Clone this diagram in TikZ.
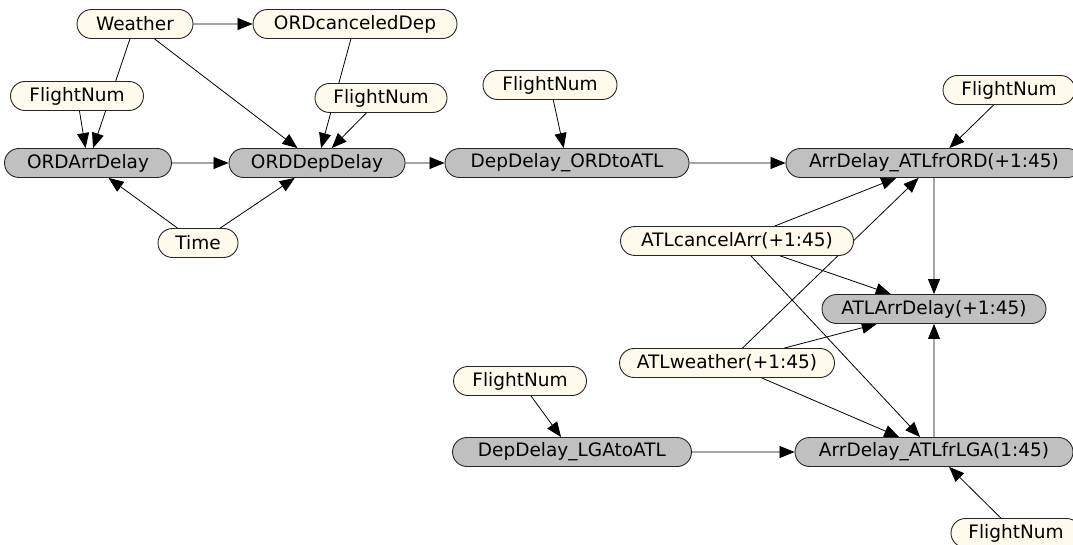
\documentclass[tikz,border=0pt]{standalone}
\usepackage{fontspec}
\setmainfont{DejaVu Sans}
\usetikzlibrary{shapes.misc,arrows.meta,backgrounds}
\definecolor{cream}{RGB}{255,250,235}
\definecolor{delaygray}{RGB}{192,192,192}

\begin{document}
\begin{tikzpicture}[x=1pt, y=-1pt,
  var/.style={draw=black!85, line width=0.9pt, rounded rectangle, minimum height=29pt, inner sep=0pt, font=\fontsize{18.5}{21}\selectfont},
  chance/.style={var, fill=cream},
  delay/.style={var, fill=delaygray},
  link/.style={line width=0.8pt, -{Triangle[length=15pt, width=12pt]}}]

\useasboundingbox (0,0) rectangle (1073,545);

\node[chance, minimum width=116pt] (weather) at (135, 24) {Weather};
\node[chance, minimum width=204pt] (ordcancel) at (355, 24) {ORDcanceledDep};
\node[chance, minimum width=133pt] (fnA) at (77, 96) {FlightNum};
\node[chance, minimum width=132pt] (fnB) at (381, 98) {FlightNum};
\node[delay, minimum width=167pt] (ordarr) at (88, 163) {ORDArrDelay};
\node[delay, minimum width=176pt] (orddep) at (317, 163) {ORDDepDelay};
\node[chance, minimum width=80pt] (time) at (198, 243) {Time};

\node[chance, minimum width=134pt] (fnC) at (550, 85) {FlightNum};
\node[delay, minimum width=244pt] (depord) at (567, 163) {DepDelay\_ORDtoATL};

\node[chance, minimum width=132pt] (fnD) at (1009, 90) {FlightNum};
\node[delay, minimum width=296pt] (arrord) at (934, 163) {ArrDelay\_ATLfrORD(+1:45)};
\node[chance, minimum width=233pt] (atlcancel) at (737, 241) {ATLcancelArr(+1:45)};
\node[delay, minimum width=224pt] (atlarr) at (934, 309) {ATLArrDelay(+1:45)};
\node[chance, minimum width=215pt] (atlweather) at (727, 363) {ATLweather(+1:45)};

\node[chance, minimum width=133pt] (fnE) at (520, 381) {FlightNum};
\node[delay, minimum width=239pt] (deplga) at (572, 452) {DepDelay\_LGAtoATL};
\node[delay, minimum width=278pt] (arrlga) at (934, 452) {ArrDelay\_ATLfrLGA(1:45)};
\node[chance, minimum width=130pt] (fnF) at (1016, 533) {FlightNum};

\begin{scope}[on background layer]
\draw[link] (weather) -- (ordcancel);
\draw[link] (weather) -- (ordarr);
\draw[link] (fnA) -- (ordarr);
\draw[link] (weather) -- (orddep);
\draw[link] (ordcancel) -- (orddep);
\draw[link] (fnB) -- (orddep);
\draw[link] (time) -- (ordarr);
\draw[link] (time) -- (orddep);
\draw[link] (ordarr) -- (orddep);
\draw[link] (orddep) -- (depord);
\draw[link] (fnC) -- (depord);
\draw[link] (depord) -- (arrord);
\draw[link] (fnD) -- (arrord);
\draw[link] (atlcancel) -- (arrord);
\draw[link] (atlweather) -- (arrord);
\draw[link] (arrord) -- (atlarr);
\draw[link] (atlcancel) -- (atlarr);
\draw[link] (atlweather) -- (atlarr);
\draw[link] (atlcancel) -- (arrlga);
\draw[link] (atlweather) -- (arrlga);
\draw[link] (arrlga) -- (atlarr);
\draw[link] (deplga) -- (arrlga);
\draw[link] (fnE) -- (deplga);
\draw[link] (fnF) -- (arrlga);
\end{scope}
\end{tikzpicture}
\end{document}
